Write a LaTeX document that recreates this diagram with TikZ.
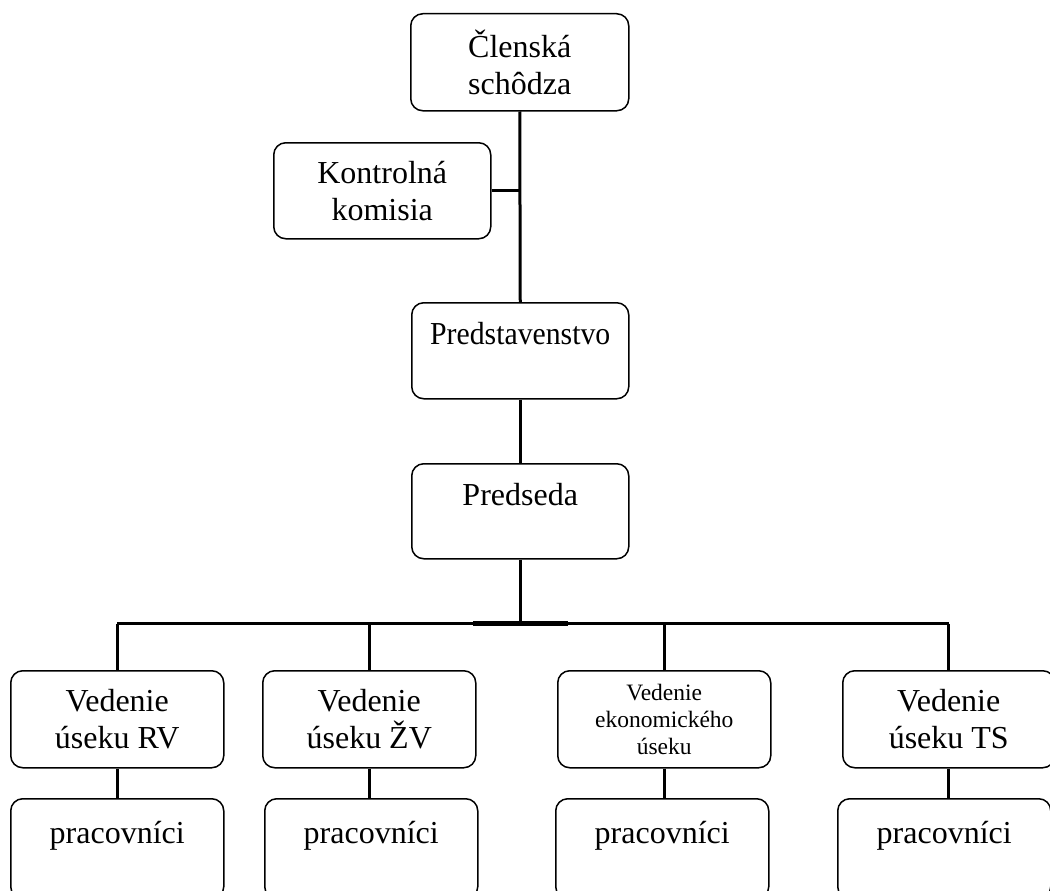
\documentclass[tikz,border=0pt]{standalone}
\usepackage{graphicx}
\usepackage{fontspec}
\setmainfont{Liberation Serif}
\begin{document}
\begin{tikzpicture}[x=1pt,y=-1pt,
  box/.style={draw=black, line width=1.5pt, rounded corners=12pt, inner sep=0pt,
    align=center, font=\fontsize{32}{37}\selectfont, anchor=north west},
  small/.style={font=\fontsize{23.5}{27}\selectfont},
  conn/.style={line width=3pt, draw=black}]
\useasboundingbox (0,0) rectangle (1050,891);
\clip (0,0) rectangle (1050,891);
% top part
\node[box, minimum width=218pt, minimum height=97pt] (cs) at (410,13) {Členská\\schôdza};
\node[box, minimum width=217pt, minimum height=96pt] (kk) at (273,142) {Kontrolná\\komisia};
\node[box, minimum width=217pt, text height=42pt, text depth=54pt] (ps) at (411,302) {\scalebox{0.93}[1]{Predstavenstvo}};
\node[box, minimum width=217pt, text height=42pt, text depth=53pt] (pr) at (411,463) {Predseda};
% management row
\node[box, minimum width=213pt, minimum height=97pt] (rv) at (10,670) {Vedenie\\úseku RV};
\node[box, minimum width=213pt, minimum height=97pt] (zv) at (262,670) {Vedenie\\úseku ŽV};
\node[box, small, minimum width=213pt, minimum height=97pt] (ek) at (557,670) {Vedenie\\ekonomického\\úseku};
\node[box, minimum width=212pt, minimum height=97pt] (ts) at (842,670) {Vedenie\\úseku TS};
% workers row
\node[box, minimum width=213pt, text height=45pt, text depth=55pt] (rvp) at (10,798) {pracovníci};
\node[box, minimum width=213pt, text height=45pt, text depth=55pt] (zvp) at (264,798) {pracovníci};
\node[box, minimum width=213pt, text height=45pt, text depth=55pt] (ekp) at (555,798) {pracovníci};
\node[box, minimum width=213pt, text height=45pt, text depth=55pt] (tsp) at (837,798) {pracovníci};
% connectors
\draw[conn] (cs.south) -- (ps.north);
\draw[conn] (kk.east) -- (cs.south |- kk.east);
\draw[conn] (ps.south) -- (pr.north);
\coordinate (busmid) at ([yshift=-64pt]pr.south);
\draw[conn] (pr.south) -- (busmid);
\draw[conn] (rv.north |- busmid) -- (ts.north |- busmid);
\draw[line width=4.5pt, draw=black] ([xshift=-47pt]busmid) -- ([xshift=48pt]busmid);
\draw[conn] (rv.north |- busmid) -- (rv.north);
\draw[conn] (zv.north |- busmid) -- (zv.north);
\draw[conn] (ek.north |- busmid) -- (ek.north);
\draw[conn] (ts.north |- busmid) -- (ts.north);
\draw[conn] (rv.south) -- (rv.south |- rvp.north);
\draw[conn] (zv.south) -- (zv.south |- zvp.north);
\draw[conn] (ek.south) -- (ek.south |- ekp.north);
\draw[conn] (ts.south) -- (ts.south |- tsp.north);
\end{tikzpicture}
\end{document}
